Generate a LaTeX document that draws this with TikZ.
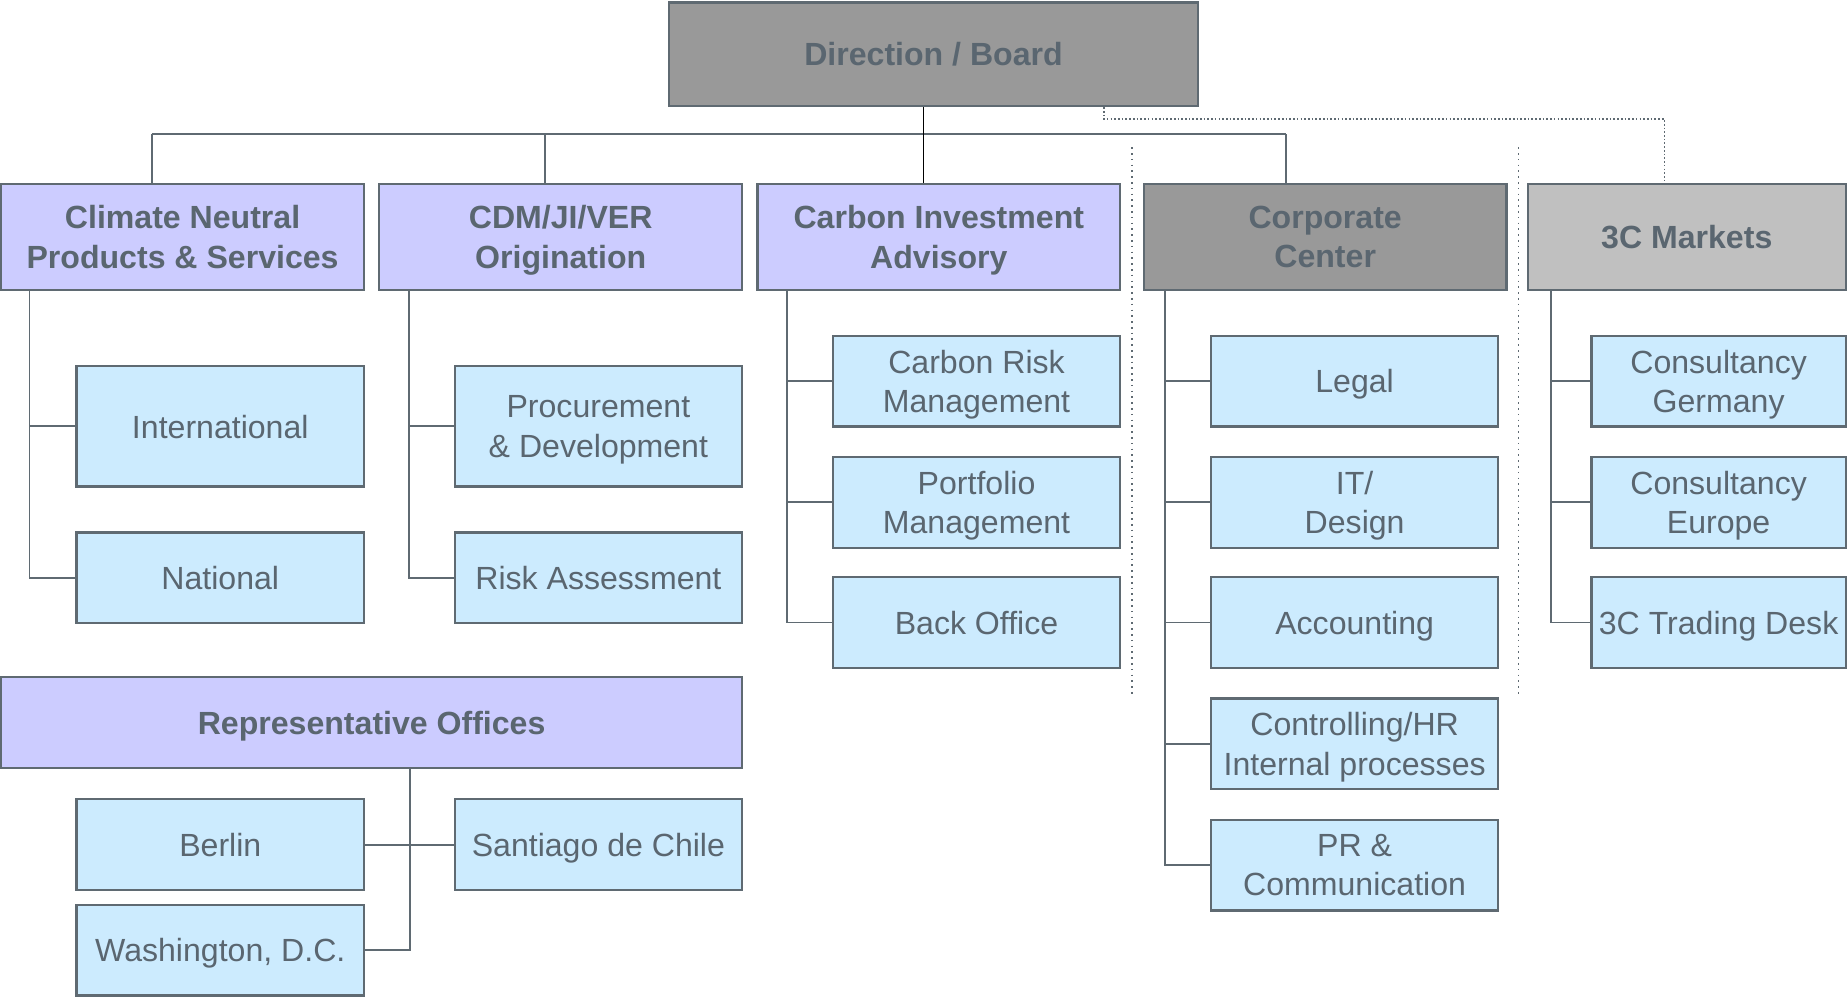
\documentclass[tikz,border=0pt]{standalone}
\usepackage{fontspec}
\setmainfont{Liberation Sans}
\definecolor{lineg}{HTML}{5F6A72}
\definecolor{textg}{HTML}{5A6670}
\definecolor{lav}{HTML}{CCCCFF}
\definecolor{skyb}{HTML}{CCEBFE}
\definecolor{boardg}{HTML}{999999}
\definecolor{mktg}{HTML}{C0C0C0}

\begin{document}
\begin{tikzpicture}[x=0.02cm,y=-0.02cm]
  \tikzstyle{every node}=[draw=lineg,line width=1.1pt,text=textg,align=center,inner sep=0pt,text depth=0pt,font=\fontsize{15.5}{19}\selectfont]
  \tikzstyle{dept}=[fill=lav,font=\fontsize{15.5}{19}\selectfont\bfseries,minimum width=6.16cm,minimum height=1.8cm]
  \tikzstyle{unit}=[fill=skyb,minimum width=4.88cm,minimum height=1.54cm]
  \tikzstyle{link}=[lineg,line width=0.9pt]
  \tikzstyle{sep}=[lineg,dotted,line width=0.8pt]

  \useasboundingbox (0,0) rectangle (1568,846);

  \node[fill=boardg,font=\fontsize{15.5}{19}\selectfont\bfseries,minimum width=8.98cm,minimum height=1.76cm] (board) at (792.5,46) {Direction / Board};

  % departments
  \node[dept] (cnps) at (155,201) {Climate Neutral\\Products \& Services};
  \node[dept] (cdm) at (476,201) {CDM/JI/VER\\Origination};
  \node[dept] (cia) at (797,201) {Carbon Investment\\Advisory};
  \node[dept,fill=boardg] (corp) at (1125,201) {Corporate\\Center};
  \node[dept,fill=mktg,minimum width=5.4cm] (mkts) at (1432,201) {3C Markets};
  \node[dept,minimum width=12.58cm,minimum height=1.54cm] (rep) at (315.5,613.5) {Representative Offices};

  \node[unit,minimum height=2.04cm] (intl) at (187,362) {International};
  \node[unit] (natl) at (187,490.5) {National};
  \node[unit,minimum height=2.04cm] (proc) at (508,362) {Procurement\\\& Development};
  \node[unit] (risk) at (508,490.5) {Risk Assessment};

  \node[unit] (crm) at (829,323.5) {Carbon Risk\\Management};
  \node[unit] (port) at (829,426.5) {Portfolio\\Management};
  \node[unit] (back) at (829,528.5) {Back Office};

  \node[unit] (legal) at (1150,323.5) {Legal};
  \node[unit] (itd) at (1150,426.5) {IT/\\Design};
  \node[unit] (acc) at (1150,528.5) {Accounting};
  \node[unit] (ctrl) at (1150,631.5) {Controlling/HR\\Internal processes};
  \node[unit] (prc) at (1150,734.5) {PR \&\\Communication};

  \node[unit,minimum width=4.32cm] (cger) at (1459,323.5) {Consultancy\\Germany};
  \node[unit,minimum width=4.32cm] (ceur) at (1459,426.5) {Consultancy\\Europe};
  \node[unit,minimum width=4.32cm] (desk) at (1459,528.5) {3C Trading Desk};

  \node[unit] (berlin) at (187,717) {Berlin};
  \node[unit] (wash) at (187,806.5) {Washington, D.C.};
  \node[unit] (chile) at (508,717) {Santiago de Chile};

  % top level links
  \coordinate (busL) at (129,114);
  \coordinate (tapB) at (463,114);
  \coordinate (tapC) at (784,114);
  \coordinate (busR) at (1092,114);
  \draw[link] (busL) -- (busR);
  \draw[link] (busL) -- (busL |- cnps.north);
  \draw[link] (tapB) -- (tapB |- cdm.north);
  \draw[link] (busR) -- (busR |- corp.north);
  \draw[link,black] (tapC |- board.south) -- (tapC |- cia.north);

  \coordinate (dotA) at (937,101);
  \coordinate (dotB) at (1413,101);
  \draw[lineg,densely dotted,line width=0.8pt] (dotA |- board.south) -- (dotA) -- (dotB) -- (dotB |- mkts.north);

  \draw[sep] (961,125) -- (961,590);
  \draw[sep] (1289,125) -- (1289,590);

  % sub units
  \foreach \c in {intl,natl} \draw[link] ([xshift=0.5cm]cnps.south west) |- (\c.west);
  \foreach \c in {proc,risk} \draw[link] ([xshift=0.52cm]cdm.south west) |- (\c.west);
  \foreach \c in {crm,port,back} \draw[link] ([xshift=0.52cm]cia.south west) |- (\c.west);
  \foreach \c in {legal,itd,acc,ctrl,prc} \draw[link] ([xshift=0.38cm]corp.south west) |- (\c.west);
  \foreach \c in {cger,ceur,desk} \draw[link] ([xshift=0.42cm]mkts.south west) |- (\c.west);

  \coordinate (repJ) at (348,717);
  \draw[link] (berlin.east) -- (chile.west);
  \draw[link] (repJ |- rep.south) |- (wash.east);

\end{tikzpicture}
\end{document}
